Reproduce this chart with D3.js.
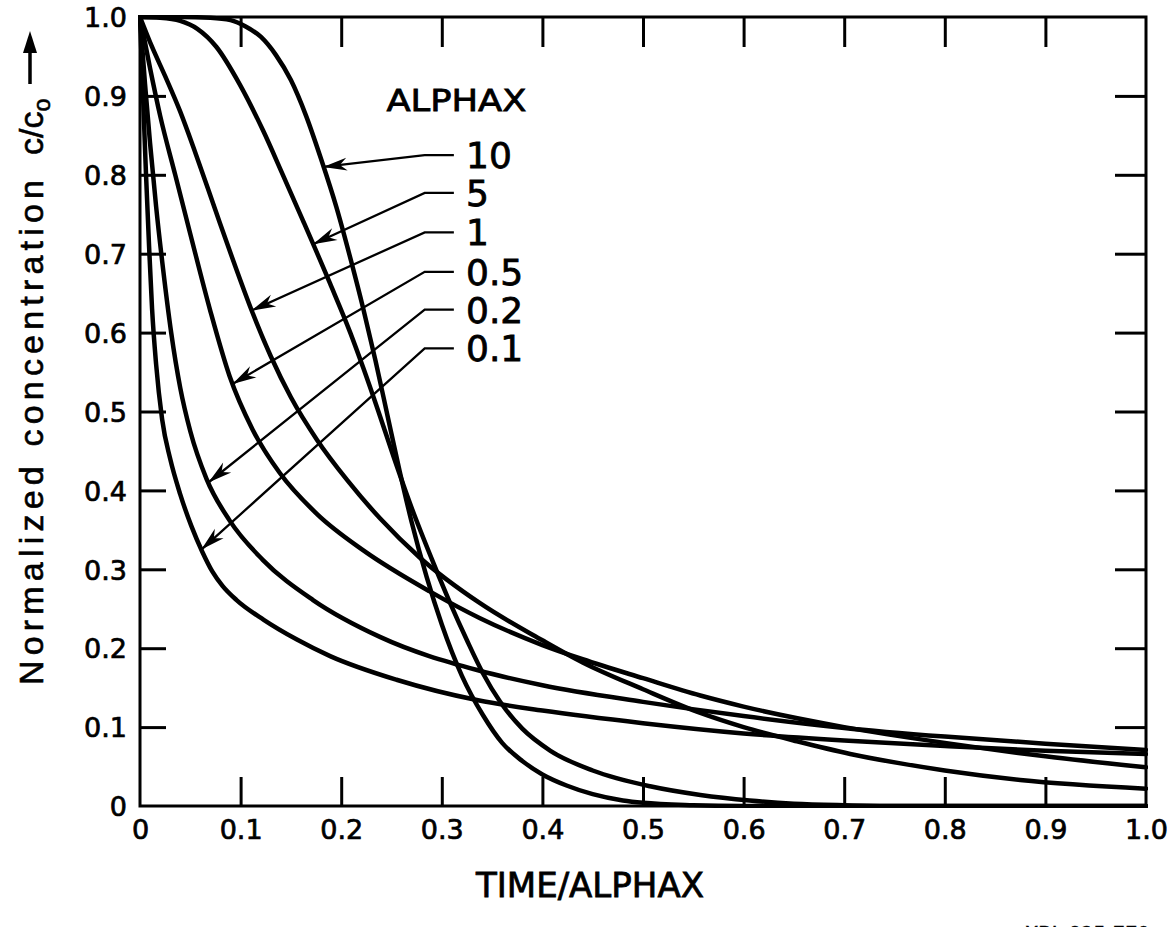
<!DOCTYPE html>
<html>
<head>
<meta charset="utf-8">
<script src="https://cdn.jsdelivr.net/npm/d3@7"></script>
<style>
  html, body { margin: 0; padding: 0; background: #fff; }
  svg { display: block; }
</style>
</head>
<body>
<svg id="chart" width="1175" height="927"></svg>
<script>
// Normalized concentration c/c0 versus TIME/ALPHAX, one curve per ALPHAX value.
const alpha10 = [[0,1],[0.04,1.0],[0.07,0.999],[0.09,0.996],[0.105,0.988],[0.12,0.975],[0.135,0.952],[0.15,0.92],[0.165,0.875],[0.18,0.82],[0.195,0.76],[0.21,0.69],[0.222,0.63],[0.234,0.565],[0.246,0.495],[0.258,0.425],[0.27,0.36],[0.285,0.29],[0.3,0.23],[0.32,0.165],[0.341,0.115],[0.36,0.08],[0.38,0.057],[0.4,0.04],[0.424,0.026],[0.45,0.015],[0.48,0.007],[0.5,0.004],[0.55,0.001],[0.6,0],[1.0,0]];
const alpha5 = [[0,1],[0.02,0.999],[0.04,0.995],[0.057,0.985],[0.076,0.962],[0.099,0.915],[0.122,0.857],[0.142,0.8],[0.162,0.742],[0.189,0.662],[0.209,0.6],[0.222,0.555],[0.237,0.5],[0.252,0.443],[0.27,0.378],[0.291,0.31],[0.308,0.258],[0.325,0.21],[0.341,0.168],[0.358,0.132],[0.38,0.098],[0.408,0.07],[0.45,0.045],[0.507,0.025],[0.557,0.014],[0.606,0.007],[0.65,0.003],[0.7,0.001],[0.75,0],[1.0,0]];
const alpha1 = [[0,1],[0.012,0.962],[0.025,0.925],[0.04,0.88],[0.055,0.828],[0.075,0.755],[0.093,0.69],[0.111,0.628],[0.13,0.57],[0.15,0.518],[0.176,0.464],[0.206,0.413],[0.239,0.364],[0.278,0.315],[0.338,0.257],[0.4,0.21],[0.44,0.182],[0.5,0.148],[0.557,0.118],[0.6,0.1],[0.653,0.082],[0.706,0.066],[0.756,0.054],[0.8,0.045],[0.875,0.033],[1.0,0.022]];
const alpha05 = [[0,1],[0.01,0.935],[0.02,0.875],[0.035,0.8],[0.05,0.725],[0.07,0.627],[0.089,0.545],[0.112,0.477],[0.139,0.422],[0.176,0.37],[0.222,0.324],[0.288,0.272],[0.338,0.238],[0.4,0.204],[0.44,0.186],[0.5,0.162],[0.557,0.14],[0.6,0.126],[0.7,0.1],[0.8,0.08],[0.9,0.063],[1.0,0.049]];
const alpha02 = [[0,1],[0.005,0.915],[0.01,0.84],[0.016,0.76],[0.023,0.68],[0.031,0.6],[0.04,0.53],[0.05,0.475],[0.066,0.415],[0.089,0.362],[0.122,0.312],[0.172,0.261],[0.239,0.214],[0.336,0.172],[0.4,0.153],[0.5,0.132],[0.6,0.114],[0.7,0.099],[0.8,0.088],[0.9,0.079],[1.0,0.071]];
const alpha01 = [[0,1],[0.003,0.9],[0.006,0.8],[0.009,0.71],[0.012,0.63],[0.016,0.56],[0.022,0.49],[0.03,0.44],[0.04,0.395],[0.051,0.355],[0.062,0.322],[0.072,0.297],[0.082,0.279],[0.096,0.261],[0.123,0.236],[0.156,0.211],[0.189,0.19],[0.255,0.16],[0.336,0.134],[0.4,0.121],[0.5,0.105],[0.6,0.092],[0.7,0.083],[0.8,0.076],[0.9,0.07],[1.0,0.066]];

const seriesNames = ["10", "5", "1", "0.5", "0.2", "0.1"];
const seriesValues = [alpha10, alpha5, alpha1, alpha05, alpha02, alpha01];

// Callouts: where each arrow touches its curve, and the height of its label row
const calloutTips = [[0.182,0.81],[0.172,0.712],[0.111,0.628],[0.092,0.535],[0.068,0.41],[0.061,0.325]];
const calloutRows = [0.825, 0.777, 0.727, 0.677, 0.629, 0.580];
const calloutElbowX = 0.283;
const calloutEndX = 0.312;

const tickValues = [0,0.1,0.2,0.3,0.4,0.5,0.6,0.7,0.8,0.9,1.0];
const innerTicks = [0.1,0.2,0.3,0.4,0.5,0.6,0.7,0.8,0.9];
const tickLabels = ["0","0.1","0.2","0.3","0.4","0.5","0.6","0.7","0.8","0.9","1.0"];

const svg = d3.select("#chart");
const x = d3.scaleLinear().domain([0, 1]).range([140, 1146]);
const y = d3.scaleLinear().domain([0, 1]).range([806, 17]);

const labelFont = "'DejaVu Sans', sans-serif";
const fmt = d => tickLabels[tickValues.findIndex(v => Math.abs(v - d) < 1e-9)];

// pen-lettered text is a little heavier than the plain font
function ink(sel, w) {
  return sel.attr("fill", "#000").attr("stroke", "#000").attr("stroke-width", w);
}

function styleAxis(g) {
  g.select(".domain").remove();
  g.selectAll(".tick line").attr("stroke", "#000").attr("stroke-width", 3);
  g.selectAll(".tick text").call(ink, 0.7)
    .style("font-family", labelFont).style("font-size", "27px");
}

// Bottom axis with labels, inward ticks
svg.append("g").attr("transform", `translate(0,${y(0)})`)
  .call(d3.axisBottom(x).tickValues(tickValues).tickFormat(fmt).tickSize(-29).tickSizeOuter(0).tickPadding(14))
  .call(styleAxis)
  .call(g => g.selectAll(".tick").filter(d => d === 0 || d === 1).select("line").remove());

// Left axis with labels, inward ticks
svg.append("g").attr("transform", `translate(${x(0)},0)`)
  .call(d3.axisLeft(y).tickValues(tickValues).tickFormat(fmt).tickSize(-26).tickSizeOuter(0).tickPadding(13))
  .call(styleAxis)
  .call(g => g.selectAll(".tick").filter(d => d === 0 || d === 1).select("line").remove())
  .call(g => g.selectAll(".tick text").attr("dy", "0.36em"));

// Top and right frame ticks, no labels
svg.append("g").attr("transform", `translate(0,${y(1)})`)
  .call(d3.axisTop(x).tickValues(innerTicks).tickFormat("").tickSize(-30).tickSizeOuter(0))
  .call(styleAxis);
svg.append("g").attr("transform", `translate(${x(1)},0)`)
  .call(d3.axisRight(y).tickValues(innerTicks).tickFormat("").tickSize(-31).tickSizeOuter(0))
  .call(styleAxis);

// Plot frame
svg.append("rect")
  .attr("x", x(0)).attr("y", y(1))
  .attr("width", x(1) - x(0)).attr("height", y(0) - y(1))
  .attr("fill", "none").attr("stroke", "#000").attr("stroke-width", 3);

// Curves
svg.append("clipPath").attr("id", "plot-clip").append("rect")
  .attr("x", x(0) - 2).attr("y", y(1) - 2)
  .attr("width", x(1) - x(0) + 4).attr("height", y(0) - y(1) + 4);
const line = d3.line().x(d => x(d[0])).y(d => y(d[1])).curve(d3.curveMonotoneX);
svg.append("g").attr("clip-path", "url(#plot-clip)")
  .selectAll("path").data(seriesValues).join("path")
  .attr("d", line)
  .attr("fill", "none").attr("stroke", "#000").attr("stroke-width", 4.5)
  .attr("stroke-linejoin", "round").attr("stroke-linecap", "round");

// Legend title
svg.append("text")
  .attr("x", x(0.245)).attr("y", y(0.881))
  .attr("textLength", 140).attr("lengthAdjust", "spacingAndGlyphs")
  .style("font-family", labelFont).style("font-size", "31px")
  .call(ink, 0.8)
  .text("ALPHAX");

// Callout leaders with arrowheads and labels
const callouts = svg.append("g");
seriesNames.forEach((name, i) => {
  const [tx, ty] = calloutTips[i];
  const rowY = y(calloutRows[i]);
  const px = x(tx), py = y(ty);
  const ex = x(calloutElbowX);
  callouts.append("path")
    .attr("d", `M${x(calloutEndX)},${rowY}L${ex},${rowY}L${px},${py}`)
    .attr("fill", "none").attr("stroke", "#000").attr("stroke-width", 2.3);
  // arrowhead pointing at the curve
  const ang = Math.atan2(rowY - py, ex - px);
  const len = 24, hw = 6.5;
  const bx = px + len * Math.cos(ang), by = py + len * Math.sin(ang);
  const nx = -Math.sin(ang) * hw, ny = Math.cos(ang) * hw;
  callouts.append("path")
    .attr("d", `M${px},${py}L${bx + nx},${by + ny}L${bx - 0.3*(bx-px)},${by - 0.3*(by-py)}L${bx - nx},${by - ny}Z`)
    .attr("fill", "#000");
  callouts.append("text")
    .attr("x", 466).attr("y", rowY).attr("dy", "0.36em")
    .style("font-family", labelFont).style("font-size", "36px")
    .call(ink, 0.8)
    .text(name);
});

// Axis titles
svg.append("text")
  .attr("x", 590).attr("y", 897).attr("text-anchor", "middle")
  .style("font-family", labelFont).style("font-size", "34px")
  .call(ink, 0.8)
  .text("TIME/ALPHAX");

const yTitle = svg.append("g").attr("transform", "translate(43,685) rotate(-90)");
const yt = yTitle.append("text")
  .style("font-family", "'Liberation Sans', Arial, sans-serif").style("font-size", "34px")
  .call(ink, 0.6);
yt.append("tspan").attr("x", 0).attr("textLength", 505).attr("lengthAdjust", "spacing")
  .text("Normalized concentration");
yt.append("tspan").attr("x", 530).text("c/c");
yt.append("tspan").attr("dy", 7).style("font-size", "23px").text("o");
// arrow after the title
svg.append("line").attr("x1", 30).attr("y1", 84).attr("x2", 30).attr("y2", 48)
  .attr("stroke", "#000").attr("stroke-width", 3.5);
svg.append("path").attr("d", "M30,31L23,53L37,53Z").attr("fill", "#000");

// Drawing number along the lower edge
svg.append("text")
  .attr("x", 1150).attr("y", 944).attr("text-anchor", "end")
  .attr("textLength", 125).attr("lengthAdjust", "spacingAndGlyphs")
  .style("font-family", labelFont).style("font-size", "24px")
  .call(ink, 0.6)
  .text("XBL 825-779");
</script>
</body>
</html>
